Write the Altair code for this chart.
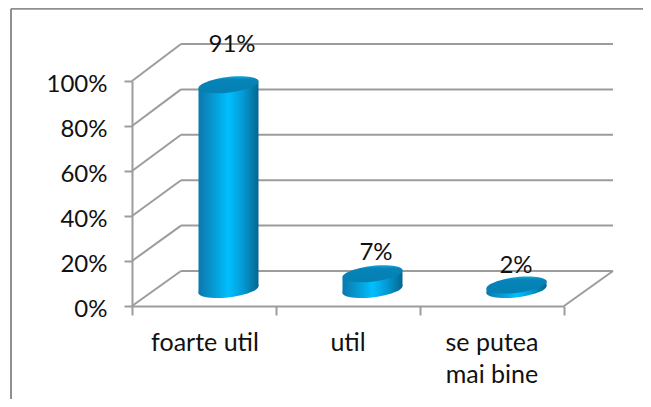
import math
import altair as alt
import pandas as pd

categories = ["foarte util", "util", "se putea\nmai bine"]
values = [91, 7, 2]
value_labels = ["91%", "7%", "2%"]
y_ticks = [0, 20, 40, 60, 80, 100]
x_ticks = [0, 1, 2, 3]

# --- layout: plot box is the front face of the 3D box
PW, PH = 432, 225
OX, OY = 132, 306
GRAY = "#9C9C9C"
FONT = "Lato"
px = lambda x: (x - OX) / (PW / 3)
py = lambda y: (OY - y) / (PH / 100)
X = alt.Scale(domain=[0, 3], nice=False, zero=False)
Y = alt.Scale(domain=[0, 100], nice=False, zero=False)
XA = alt.Axis(
    values=x_ticks, labels=False, title=None, grid=False,
    domainColor=GRAY, tickColor=GRAY, domainWidth=2, tickWidth=2, tickSize=9,
)
YA = alt.Axis(
    values=y_ticks, labelExpr="datum.value + '%'", title=None, grid=False,
    domainColor=GRAY, tickColor=GRAY, domainWidth=2, tickWidth=2, tickSize=8,
    labelFont=FONT, labelFontSize=24, labelColor="#111111", labelPadding=17, labelOffset=3,
)
XE = alt.X("x:Q", scale=X, axis=XA)
YE = alt.Y("y:Q", scale=Y, axis=YA)

def rules(rows, color=GRAY, width=2):
    return alt.Chart(pd.DataFrame(rows, columns=["x", "y", "x2", "y2"])).mark_rule(
        color=color, strokeWidth=width
    ).encode(x=XE, y=YE, x2="x2:Q", y2="y2:Q")

def ellipse_path(b=0.257, tilt=-7):
    t, pts = math.radians(tilt), []
    for i in range(48):
        a = 2 * math.pi * i / 48
        ex, ey = math.cos(a), b * math.sin(a)
        pts.append((ex * math.cos(t) - ey * math.sin(t), ex * math.sin(t) + ey * math.cos(t)))
    return "M" + "L".join(f"{p[0]:.4f},{p[1]:.4f}" for p in pts) + "Z"

SHAPE = ellipse_path()
body_grad = alt.Gradient(
    gradient="linear", x1=0, x2=1, y1=0, y2=0,
    stops=[
        alt.GradientStop(offset=0, color="#0A78AD"),
        alt.GradientStop(offset=0.22, color="#0895CE"),
        alt.GradientStop(offset=0.5, color="#00BFFF"),
        alt.GradientStop(offset=0.75, color="#0498D2"),
        alt.GradientStop(offset=1, color="#05668F"),
    ],
)
top_grad = alt.Gradient(
    gradient="linear", x1=0, x2=0, y1=0, y2=1,
    stops=[
        alt.GradientStop(offset=0, color="#18A4D8"),
        alt.GradientStop(offset=0.2, color="#0584B8"),
        alt.GradientStop(offset=1, color="#0580B2"),
    ],
)

# --- frame, walls, floor
back_dx, back_dy = 49, 36
y_scale_back = 2.27
rows = []
for v in y_ticks:
    front = OY - v * PH / 100
    back = OY - back_dy + 1 - v * y_scale_back
    rows.append((px(OX), py(front), px(OX + back_dx), py(back)))
    rows.append((px(OX + back_dx), py(back), px(OX + PW + 49), py(back)))
rows.append((px(OX + PW), 0, px(OX + PW + 49), py(271)))
grid = rules(rows)
frame = rules([
    (px(11), py(8.8), px(651), py(8.8)),
    (px(11), py(8.8), px(11), py(407)),
], color="#909090", width=2)

# --- cylinders
RX = 30 / (PW / 3)
BASE = py(289.5)
layers = []
for i, v in enumerate(values):
    cx = i + 0.5 + px(OX + 24.5)
    slope = py(OY - 3.6) - py(OY)  # tilt of the ellipse in value units
    top = BASE + v
    body = pd.DataFrame({
        "x": [cx - RX, cx + RX],
        "y": [top - slope, top + slope],
        "y2": [BASE - slope, BASE + slope],
    })
    ends = pd.DataFrame({"x": [cx, cx], "y": [BASE, top], "p": ["b", "t"]})
    layers.append(alt.Chart(ends[ends.p == "b"]).mark_point(
        shape=SHAPE, size=3660, filled=True, fill=body_grad, opacity=1, strokeWidth=0,
    ).encode(x=XE, y=YE))
    layers.append(alt.Chart(body).mark_area(fill=body_grad, opacity=1).encode(x=XE, y=YE, y2="y2:Q"))
    layers.append(alt.Chart(ends[ends.p == "t"]).mark_point(
        shape=SHAPE, size=3660, filled=True, fill=top_grad, opacity=1, strokeWidth=0,
    ).encode(x=XE, y=YE))

# --- text
label_pos = [(232, 45), (376, 253), (516, 266)]
val_text = alt.Chart(pd.DataFrame({
    "x": [px(p[0]) for p in label_pos], "y": [py(p[1]) for p in label_pos], "t": value_labels,
})).mark_text(font=FONT, fontSize=24, color="#111111", baseline="middle").encode(
    x=XE, y=YE, text="t:N",
)
cat_x = [205, 348, 492]
cat_text = alt.Chart(pd.DataFrame({
    "x": [px(c) for c in cat_x], "y": [py(343)] * 3, "t": [c.split("\n") for c in categories],
})).mark_text(font=FONT, fontSize=25, color="#111111", baseline="middle", lineHeight=32).encode(
    x=XE, y=YE, text="t",
)

chart = alt.layer(frame, grid, *layers, val_text, cat_text).properties(
    width=PW, height=PH,
    padding={"left": OX - 8, "top": OY - PH - 8, "right": 635 - (OX - 8) - PW, "bottom": 391 - (OY - PH - 8) - PH},
    autosize=alt.AutoSizeParams(type="none"),
    background="white",
).configure_view(stroke=None, clip=False)

chart.save("out.html", embed_options={"renderer": "svg", "actions": False})
